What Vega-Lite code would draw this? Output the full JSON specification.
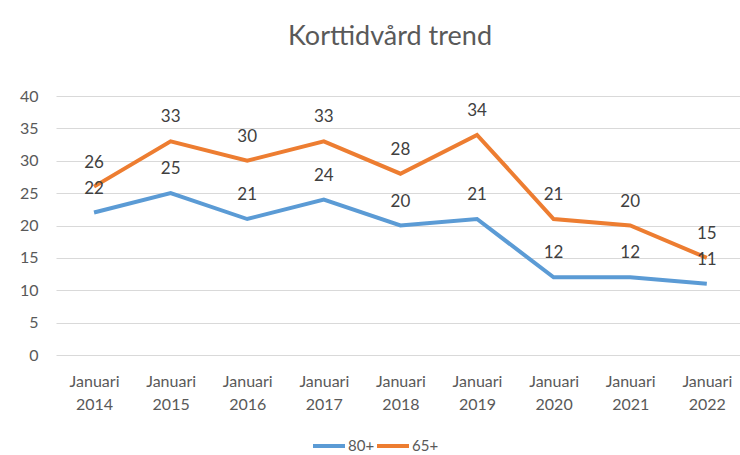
{
  "$schema": "https://vega.github.io/schema/vega-lite/v6.json",
  "width": 684,
  "height": 259,
  "autosize": {"type": "none"},
  "padding": {"left": 56, "top": 96, "right": 0, "bottom": 100},
  "background": "white",
  "title": {"text": "Korttidvård trend", "fontSize": 27, "font": "Lato", "fontWeight": "normal", "color": "#595959", "offset": 37, "anchor": "middle", "dx": -8},
  "config": {
    "view": {"stroke": null},
    "font": "Lato",
    "axis": {"labelFont": "Lato", "labelColor": "#595959", "labelFontSize": 16, "domain": false, "ticks": false}
  },
  "data": {
    "values": [
      {"period": "Januari 2014", "serie": "80+", "value": 22},
      {"period": "Januari 2015", "serie": "80+", "value": 25},
      {"period": "Januari 2016", "serie": "80+", "value": 21},
      {"period": "Januari 2017", "serie": "80+", "value": 24},
      {"period": "Januari 2018", "serie": "80+", "value": 20},
      {"period": "Januari 2019", "serie": "80+", "value": 21},
      {"period": "Januari 2020", "serie": "80+", "value": 12},
      {"period": "Januari 2021", "serie": "80+", "value": 12},
      {"period": "Januari 2022", "serie": "80+", "value": 11},
      {"period": "Januari 2014", "serie": "65+", "value": 26},
      {"period": "Januari 2015", "serie": "65+", "value": 33},
      {"period": "Januari 2016", "serie": "65+", "value": 30},
      {"period": "Januari 2017", "serie": "65+", "value": 33},
      {"period": "Januari 2018", "serie": "65+", "value": 28},
      {"period": "Januari 2019", "serie": "65+", "value": 34},
      {"period": "Januari 2020", "serie": "65+", "value": 21},
      {"period": "Januari 2021", "serie": "65+", "value": 20},
      {"period": "Januari 2022", "serie": "65+", "value": 15}
    ]
  },
  "encoding": {
    "x": {
      "field": "period", "type": "ordinal", "sort": null,
      "scale": {"type": "point", "padding": 0.465, "align": 0.534},
      "axis": {"title": null, "labelAngle": 0, "labelExpr": "split(datum.value, ' ')", "labelPadding": 18, "labelLineHeight": 23, "labelBaseline": "top", "grid": false}
    },
    "y": {
      "field": "value", "type": "quantitative",
      "scale": {"domain": [0, 40]},
      "axis": {"title": null, "values": [0, 5, 10, 15, 20, 25, 30, 35, 40], "grid": true, "gridColor": "#d9d9d9", "gridWidth": 1, "labelPadding": 18}
    },
    "color": {
      "field": "serie", "type": "nominal",
      "scale": {"domain": ["80+", "65+"], "range": ["#5B9BD5", "#ED7D31"]},
      "legend": {"title": null, "orient": "none", "direction": "horizontal", "legendX": 255, "legendY": 332, "symbolType": "stroke", "symbolSize": 1024, "symbolStrokeWidth": 4, "labelFontSize": 15, "labelColor": "#595959", "labelFont": "Lato", "columnPadding": -12, "labelOffset": 1}
    }
  },
  "layer": [
    {"mark": {"type": "line", "strokeWidth": 4}},
    {"mark": {"type": "text", "dy": -24, "fontSize": 17, "color": "#404040", "font": "Lato"}, "encoding": {"text": {"field": "value", "type": "quantitative"}, "color": {"value": "#404040"}}}
  ]
}
